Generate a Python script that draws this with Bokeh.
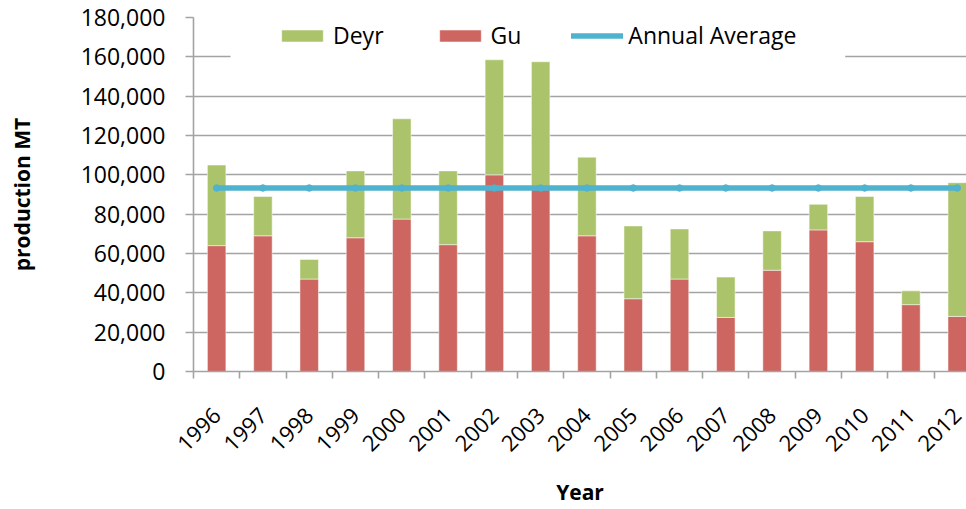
import math
from bokeh.plotting import figure
from bokeh.models import (ColumnDataSource, FixedTicker, NumeralTickFormatter,
                          Legend, LegendItem, BoxAnnotation, Range1d)
from bokeh.embed import file_html
from bokeh.resources import INLINE

years = ["1996", "1997", "1998", "1999", "2000", "2001", "2002", "2003", "2004",
         "2005", "2006", "2007", "2008", "2009", "2010", "2011", "2012"]
gu = [64000, 69000, 47000, 68000, 77500, 64500, 100000, 92500, 69000,
      37000, 47000, 27500, 51500, 72000, 66000, 34000, 28000]
deyr = [41000, 20000, 10000, 34000, 51000, 37500, 58500, 65000, 40000,
        37000, 25500, 20500, 20000, 13000, 23000, 7000, 68000]
annual_avg = [93300] * 17
y_ticks = [0, 20000, 40000, 60000, 80000, 100000, 120000, 140000, 160000, 180000]

FONT = "Open Sans"
GREEN = "#abc46b"
RED = "#cd6660"
BLUE = "#4fb3cf"
GRID = "#a3a3a3"

idx = list(range(len(years)))
src = ColumnDataSource(dict(x=idx, gu=gu, deyr=deyr, avg=annual_avg, year=years))

p = figure(width=966, height=509, output_backend="svg", toolbar_location=None,
           x_range=Range1d(-0.5, 16.2), y_range=Range1d(0, 180000),
           min_border_left=193, min_border_right=0, min_border_top=17,
           min_border_bottom=136)
p.outline_line_color = None
p.background_fill_color = "white"
p.border_fill_color = "white"

# white area behind the legend (interrupts grid lines like the original)
box = BoxAnnotation(left=0.30, right=13.58, bottom=158800, fill_color="white",
                    fill_alpha=1.0, line_color=None, level="underlay")
p.add_layout(box)

bars = p.vbar_stack(["gu", "deyr"], x="x", width=0.4, source=src,
                    color=[RED, GREEN], line_color="white", line_alpha=0.5,
                    line_width=1)
ln = p.line("x", "avg", source=src, line_width=5.5, color=BLUE, line_cap="round")
mk = p.scatter("x", "avg", source=src, size=6.5, color=BLUE)

# axes
p.xgrid.visible = False
p.ygrid.grid_line_color = GRID
p.ygrid.grid_line_width = 1.6
p.yaxis.ticker = FixedTicker(ticks=y_ticks)
p.yaxis.formatter = NumeralTickFormatter(format="0,0")
p.yaxis.major_tick_out = 8
p.yaxis.major_tick_in = 0
p.yaxis.minor_tick_line_color = None
p.yaxis.axis_line_color = GRID
p.yaxis.axis_line_width = 1.6
p.yaxis.major_tick_line_color = GRID
p.yaxis.major_tick_line_width = 1.6
p.yaxis.major_label_text_font = FONT
p.yaxis.major_label_text_font_size = "23px"
p.yaxis.major_label_text_color = "black"
p.yaxis.major_label_standoff = 20
p.yaxis.axis_label = "production MT"
p.yaxis.axis_label_text_font = FONT
p.yaxis.axis_label_text_font_size = "21px"
p.yaxis.axis_label_text_font_style = "bold"
p.yaxis.axis_label_text_color = "black"
p.yaxis.axis_label_standoff = 42

p.xaxis.ticker = FixedTicker(ticks=idx, minor_ticks=[i - 0.5 for i in range(len(years) + 1)])
p.xaxis.major_label_overrides = {i: y for i, y in zip(idx, years)}
p.xaxis.major_tick_out = 0
p.xaxis.major_tick_in = 0
p.xaxis.minor_tick_out = 7
p.xaxis.minor_tick_in = 0
p.xaxis.minor_tick_line_color = GRID
p.xaxis.minor_tick_line_width = 1.6
p.xaxis.axis_line_color = GRID
p.xaxis.axis_line_width = 1.6
p.xaxis.major_label_orientation = math.pi / 4
p.xaxis.major_label_text_font = FONT
p.xaxis.major_label_text_font_size = "22px"
p.xaxis.major_label_text_color = "black"
p.xaxis.major_label_standoff = 33
p.xaxis.axis_label = "Year"
p.xaxis.axis_label_text_font = FONT
p.xaxis.axis_label_text_font_size = "21px"
p.xaxis.axis_label_text_font_style = "bold"
p.xaxis.axis_label_text_color = "black"
p.xaxis.axis_label_standoff = 17

legend = Legend(items=[LegendItem(label="Deyr", renderers=[bars[1]]),
                       LegendItem(label="Gu", renderers=[bars[0]]),
                       LegendItem(label="Annual Average", renderers=[ln])],
                orientation="horizontal", location=(83, 320),
                glyph_width=52, glyph_height=15, label_standoff=5, spacing=50,
                padding=4, margin=0, border_line_color=None,
                background_fill_color="white", background_fill_alpha=1.0,
                label_text_font=FONT, label_text_font_size="23px",
                label_text_color="black")
p.add_layout(legend, "center")

open("out.html", "w").write(file_html(p, INLINE))
